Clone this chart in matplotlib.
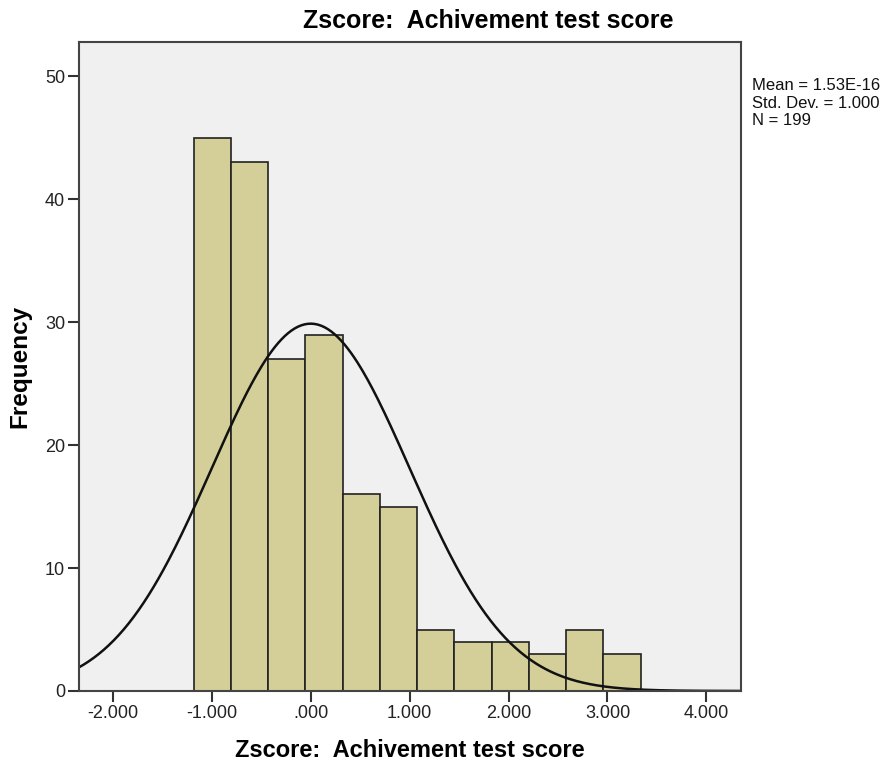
import numpy as np
import matplotlib
matplotlib.use("Agg")
import matplotlib.pyplot as plt

# histogram data
counts = [45, 43, 27, 29, 16, 15, 5, 4, 4, 3, 5, 3]
bin_start = -1.183
bin_width = 0.3764
mean = 1.53e-16
std = 1.0
n = 199
xticks = [-2, -1, 0, 1, 2, 3, 4]
xtick_labels = ["-2.000", "-1.000", ".000", "1.000", "2.000", "3.000", "4.000"]
yticks = [0, 10, 20, 30, 40, 50]

plt.rcParams['font.family'] = ['Liberation Sans', 'DejaVu Sans']

fig = plt.figure(figsize=(8.88, 7.63), dpi=100)
ax = fig.add_axes([0.0890, 0.0944, 0.7455, 0.8506])
ax.set_facecolor("#f0f0f0")

lefts = [bin_start + i * bin_width for i in range(len(counts))]
ax.bar(lefts, counts, width=bin_width, align='edge',
       color="#d4cf99", edgecolor="#222222", linewidth=1.2)

# normal curve scaled to counts
xlim = (-2.342, 4.35)
xs = np.linspace(xlim[0], xlim[1], 400)
ys = n * bin_width * np.exp(-0.5 * ((xs - mean) / std) ** 2) / (std * np.sqrt(2 * np.pi))
ax.plot(xs, ys, color="#111111", linewidth=1.8)

ax.set_xlim(*xlim)
ax.set_ylim(0, 52.8)
ax.set_xticks(xticks)
ax.set_xticklabels(xtick_labels)
ax.set_yticks(yticks)
ax.tick_params(direction='out', length=8, width=1.5, color="#333333",
               labelsize=13, labelcolor="#222222", pad=2)
for s in ax.spines.values():
    s.set_color("#444444")
    s.set_linewidth(1.5)

ax.set_xlabel("Zscore:  Achivement test score", fontsize=17, fontweight='bold', labelpad=12)
ax.set_ylabel("Frequency", fontsize=17.5, fontweight='bold', labelpad=10)
fig.text(0.55, 0.973, "Zscore:  Achivement test score", fontsize=18,
         fontweight='bold', ha='center', va='center')

fig.text(0.847, 0.865, "Mean = 1.53E-16\nStd. Dev. = 1.000\nN = 199",
         fontsize=12, va='center', ha='left', linespacing=1.18, color="#111111")

fig.savefig("out.png", dpi=100)
